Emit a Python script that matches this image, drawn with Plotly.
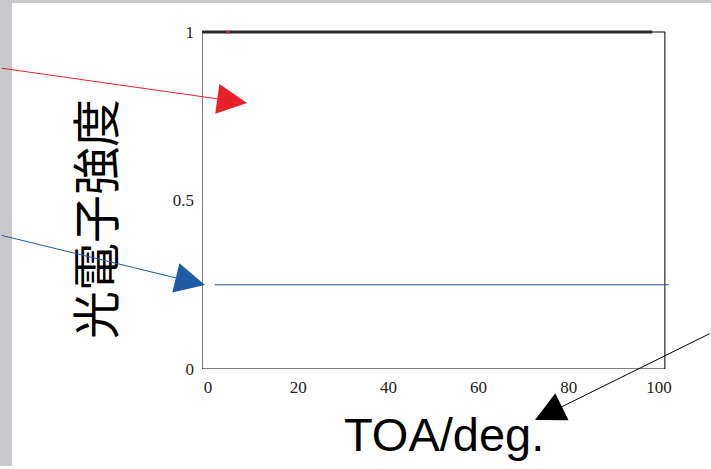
import plotly.graph_objects as go

# ---- data ----
toa_top = [-1.3, 20, 40, 60, 80, 98.5]          # TOA/deg. (black trace at top)
intensity_top = [1, 1, 1, 1, 1, 1]
toa_red = [4.5]
intensity_red = [1.0]
toa_blue = [1.5, 102.2]
intensity_blue = [0.25, 0.25]

x_ticks = [0, 20, 40, 60, 80, 100]
x_ticktext = ["0", "20", "40", "60", "80", "100"]
y_ticks = [0, 0.5, 1]
y_ticktext = ["0", "0.5", "1"]

W, H = 711, 469

def px(xp):
    return xp / W

def py(yp):
    return (H - yp) / H

fig = go.Figure()

fig.add_trace(go.Scatter(x=toa_top, y=intensity_top, mode="lines",
                         line=dict(color="#2a2a2a", width=3), showlegend=False))
fig.add_trace(go.Scatter(x=toa_red, y=intensity_red, mode="markers",
                         marker=dict(color="#e8202a", size=3), showlegend=False))
fig.add_trace(go.Scatter(x=toa_blue, y=intensity_blue, mode="lines",
                         line=dict(color="#2f4f8f", width=1), showlegend=False))

serif = "Liberation Serif, Times New Roman, serif"

fig.update_layout(
    width=W, height=H,
    margin=dict(l=0, r=0, t=0, b=0, autoexpand=False),
    paper_bgcolor="white", plot_bgcolor="rgba(0,0,0,0)",
    hovermode=False,
    xaxis=dict(domain=[px(202), px(671)], range=[-1.33, 102.66], automargin=False,
               showgrid=False, zeroline=False, showline=False, ticks="",
               tickvals=x_ticks, ticktext=x_ticktext, ticklabelstandoff=6,
               tickfont=dict(family=serif, size=17, color="#222")),
    yaxis=dict(domain=[py(369), py(28)], range=[0, 1.0119], automargin=False,
               showgrid=False, zeroline=False, showline=False, ticks="",
               tickvals=y_ticks, ticktext=y_ticktext, ticklabelstandoff=7,
               tickfont=dict(family=serif, size=17, color="#222")),
    shapes=[
        dict(type="rect", xref="paper", yref="paper", x0=0, x1=px(12), y0=py(466), y1=1,
             fillcolor="#c9c9cd", line=dict(width=0), layer="below"),
        dict(type="rect", xref="paper", yref="paper", x0=0, x1=1, y0=py(3), y1=1,
             fillcolor="#c9c9cd", line=dict(width=0), layer="below"),
        dict(type="rect", xref="x", yref="y", x0=-1.33, x1=101.3, y0=0, y1=1,
             line=dict(color="black", width=1), layer="below"),
    ],
    annotations=[
        dict(text="光電子強度", xref="paper", yref="paper", x=px(93), y=py(219),
             xanchor="center", yanchor="middle",
             textangle=-90, showarrow=False,
             font=dict(family="Noto Sans CJK JP", size=48, color="black")),
        dict(text="TOA/deg.", xref="paper", yref="paper", x=px(444), y=py(434),
             xanchor="center", yanchor="middle",
             showarrow=False,
             font=dict(family="Liberation Sans, Arial, sans-serif", size=47, color="black")),
        dict(text="", xref="paper", yref="paper", x=px(247), y=py(103), ax=-257, ay=-35,
             showarrow=True, arrowhead=2, arrowsize=6, arrowwidth=1, arrowcolor="#e8202a"),
        dict(text="", xref="paper", yref="paper", x=px(205), y=py(285), ax=-215, ay=-50,
             showarrow=True, arrowhead=2, arrowsize=6, arrowwidth=1, arrowcolor="#1f5aa6"),
        dict(text="", xref="paper", yref="paper", x=px(535), y=py(420), ax=225, ay=-87,
             showarrow=True, arrowhead=2, arrowsize=6, arrowwidth=1, arrowcolor="black"),
    ],
)

fig.write_html("out.html", config={"displayModeBar": False},
               post_script="document.body.style.margin='0';document.body.style.overflow='hidden';")
